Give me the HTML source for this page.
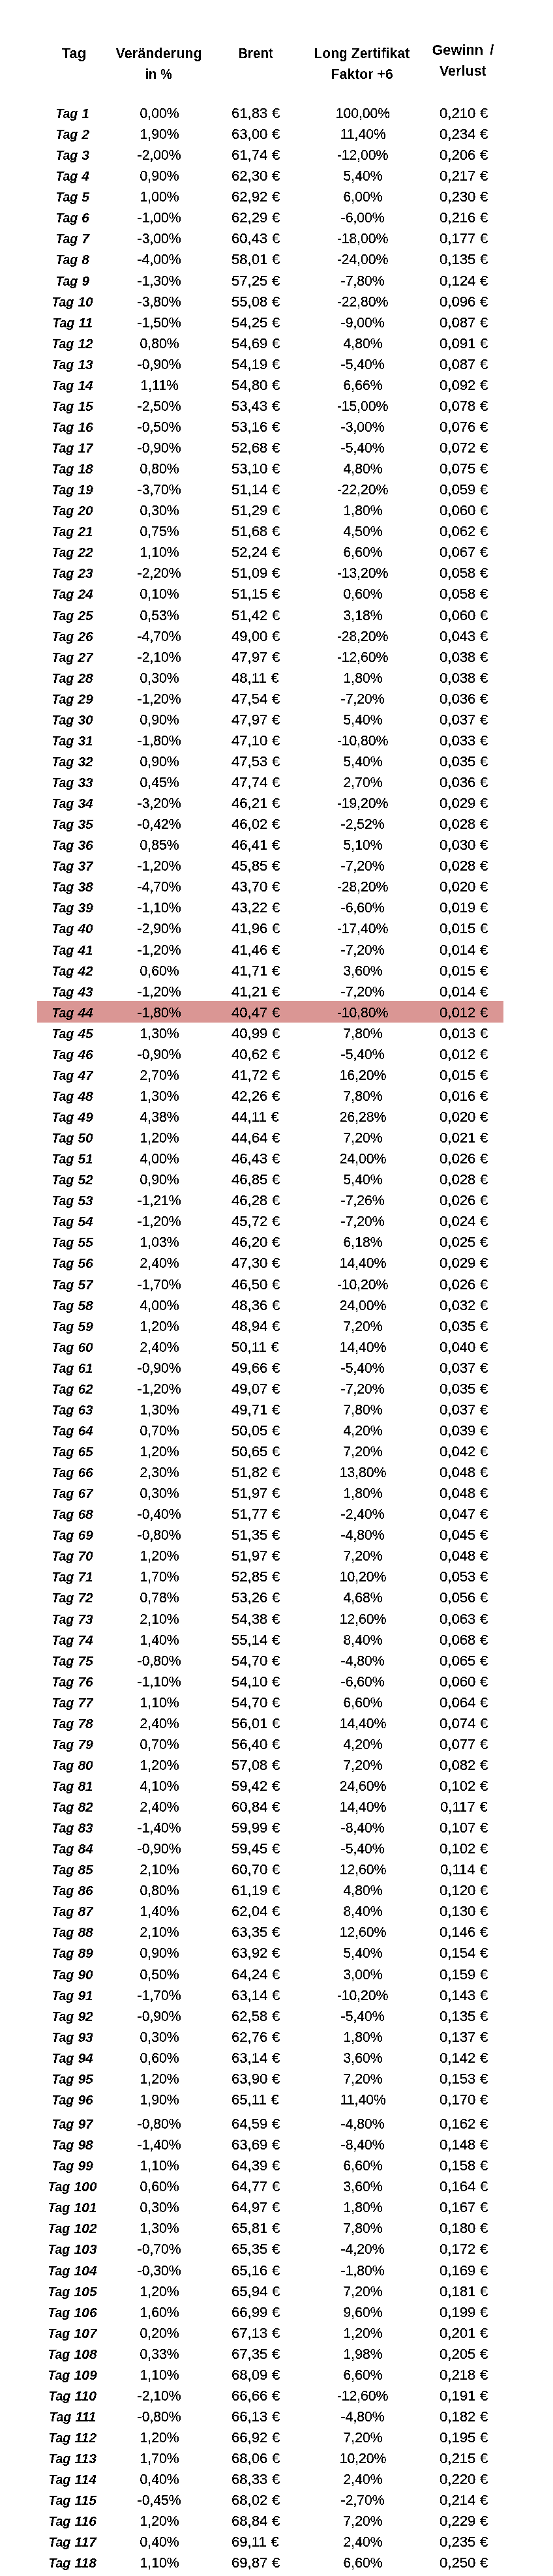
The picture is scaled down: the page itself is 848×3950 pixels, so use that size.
<!DOCTYPE html>
<html lang="de"><head><meta charset="utf-8"><title>Brent Long Zertifikat Faktor 6</title><style>
html,body{margin:0;padding:0;background:#fff;}
body{width:848px;height:3950px;position:relative;overflow:hidden;font-family:"Liberation Sans",Arial,sans-serif;color:#000;}
.c{position:absolute;width:180px;height:40px;line-height:40px;text-align:center;white-space:nowrap;}
.c span{display:inline-block;}
.t{font-size:21px;font-weight:bold;font-style:italic;}
.t .g{transform:scaleX(0.935);margin:0 -1.1px;}
.t .d{transform:scaleX(1.0);}
.n{font-size:21.5px;}
.n span{transform:scaleX(0.982);}
.n.e span{word-spacing:0.5px;transform:scaleX(1.03);}
.h{font-size:21.5px;font-weight:bold;}
.hl{position:absolute;background:#DA9694;}
.L{position:absolute;left:0;top:0;width:848px;height:3950px;}
#txr{filter:url(#binr);}
#txb{filter:url(#binb);}
</style></head><body>
<div class="hl" style="left:57px;top:1535px;width:715px;height:33px"></div>
<svg width="0" height="0" style="position:absolute"><filter id="binr" x="0" y="0" width="100%" height="100%"><feComponentTransfer><feFuncA type="discrete" tableValues="0 1 1"/></feComponentTransfer></filter><filter id="binb" x="0" y="0" width="100%" height="100%"><feComponentTransfer><feFuncA type="discrete" tableValues="0 1"/></feComponentTransfer></filter></svg>
<div class="L" id="txb">
<div class="c h" style="left:23.45px;top:61.75px"><span style="transform:scaleX(1.0294)">Tag</span></div>
<div class="c h" style="left:153.90px;top:61.75px"><span style="transform:scaleX(1.0062)">Veränderung</span></div>
<div class="c h" style="left:153.60px;top:93.85px"><span style="transform:scaleX(0.9369)">in %</span></div>
<div class="c h" style="left:302.05px;top:61.75px"><span style="transform:scaleX(0.9559)">Brent</span></div>
<div class="c h" style="left:465.15px;top:61.75px"><span style="transform:scaleX(0.9822)">Long Zertifikat</span></div>
<div class="c h" style="left:465.00px;top:93.85px"><span style="transform:scaleX(0.9894)">Faktor +6</span></div>
<div class="c h" style="left:620.10px;top:56.75px"><span style="transform:scaleX(1.0127);word-spacing:4px">Gewinn /</span></div>
<div class="c h" style="left:619.80px;top:88.75px"><span style="transform:scaleX(1.0028)">Verlust</span></div>
<div class="c t" style="left:21.00px;top:153.72px"><span class="g">Tag</span> <span class="d">1</span></div>
<div class="c t" style="left:21.00px;top:185.72px"><span class="g">Tag</span> <span class="d">2</span></div>
<div class="c t" style="left:21.00px;top:217.72px"><span class="g">Tag</span> <span class="d">3</span></div>
<div class="c t" style="left:21.00px;top:249.72px"><span class="g">Tag</span> <span class="d">4</span></div>
<div class="c t" style="left:21.00px;top:281.72px"><span class="g">Tag</span> <span class="d">5</span></div>
<div class="c t" style="left:21.00px;top:313.72px"><span class="g">Tag</span> <span class="d">6</span></div>
<div class="c t" style="left:21.00px;top:345.72px"><span class="g">Tag</span> <span class="d">7</span></div>
<div class="c t" style="left:21.00px;top:377.72px"><span class="g">Tag</span> <span class="d">8</span></div>
<div class="c t" style="left:21.00px;top:410.72px"><span class="g">Tag</span> <span class="d">9</span></div>
<div class="c t" style="left:21.00px;top:442.72px"><span class="g">Tag</span> <span class="d">10</span></div>
<div class="c t" style="left:21.00px;top:474.72px"><span class="g">Tag</span> <span class="d">11</span></div>
<div class="c t" style="left:21.00px;top:506.72px"><span class="g">Tag</span> <span class="d">12</span></div>
<div class="c t" style="left:21.00px;top:538.72px"><span class="g">Tag</span> <span class="d">13</span></div>
<div class="c t" style="left:21.00px;top:570.72px"><span class="g">Tag</span> <span class="d">14</span></div>
<div class="c t" style="left:21.00px;top:602.72px"><span class="g">Tag</span> <span class="d">15</span></div>
<div class="c t" style="left:21.00px;top:634.72px"><span class="g">Tag</span> <span class="d">16</span></div>
<div class="c t" style="left:21.00px;top:666.72px"><span class="g">Tag</span> <span class="d">17</span></div>
<div class="c t" style="left:21.00px;top:698.72px"><span class="g">Tag</span> <span class="d">18</span></div>
<div class="c t" style="left:21.00px;top:730.72px"><span class="g">Tag</span> <span class="d">19</span></div>
<div class="c t" style="left:21.00px;top:762.72px"><span class="g">Tag</span> <span class="d">20</span></div>
<div class="c t" style="left:21.00px;top:794.72px"><span class="g">Tag</span> <span class="d">21</span></div>
<div class="c t" style="left:21.00px;top:826.72px"><span class="g">Tag</span> <span class="d">22</span></div>
<div class="c t" style="left:21.00px;top:858.72px"><span class="g">Tag</span> <span class="d">23</span></div>
<div class="c t" style="left:21.00px;top:890.72px"><span class="g">Tag</span> <span class="d">24</span></div>
<div class="c t" style="left:21.00px;top:923.72px"><span class="g">Tag</span> <span class="d">25</span></div>
<div class="c t" style="left:21.00px;top:955.72px"><span class="g">Tag</span> <span class="d">26</span></div>
<div class="c t" style="left:21.00px;top:987.72px"><span class="g">Tag</span> <span class="d">27</span></div>
<div class="c t" style="left:21.00px;top:1019.72px"><span class="g">Tag</span> <span class="d">28</span></div>
<div class="c t" style="left:21.00px;top:1051.72px"><span class="g">Tag</span> <span class="d">29</span></div>
<div class="c t" style="left:21.00px;top:1083.72px"><span class="g">Tag</span> <span class="d">30</span></div>
<div class="c t" style="left:21.00px;top:1115.72px"><span class="g">Tag</span> <span class="d">31</span></div>
<div class="c t" style="left:21.00px;top:1147.72px"><span class="g">Tag</span> <span class="d">32</span></div>
<div class="c t" style="left:21.00px;top:1179.72px"><span class="g">Tag</span> <span class="d">33</span></div>
<div class="c t" style="left:21.00px;top:1211.72px"><span class="g">Tag</span> <span class="d">34</span></div>
<div class="c t" style="left:21.00px;top:1243.72px"><span class="g">Tag</span> <span class="d">35</span></div>
<div class="c t" style="left:21.00px;top:1275.72px"><span class="g">Tag</span> <span class="d">36</span></div>
<div class="c t" style="left:21.00px;top:1307.72px"><span class="g">Tag</span> <span class="d">37</span></div>
<div class="c t" style="left:21.00px;top:1339.72px"><span class="g">Tag</span> <span class="d">38</span></div>
<div class="c t" style="left:21.00px;top:1371.72px"><span class="g">Tag</span> <span class="d">39</span></div>
<div class="c t" style="left:21.00px;top:1403.72px"><span class="g">Tag</span> <span class="d">40</span></div>
<div class="c t" style="left:21.00px;top:1436.72px"><span class="g">Tag</span> <span class="d">41</span></div>
<div class="c t" style="left:21.00px;top:1468.72px"><span class="g">Tag</span> <span class="d">42</span></div>
<div class="c t" style="left:21.00px;top:1500.72px"><span class="g">Tag</span> <span class="d">43</span></div>
<div class="c t" style="left:21.00px;top:1532.72px"><span class="g">Tag</span> <span class="d">44</span></div>
<div class="c t" style="left:21.00px;top:1564.72px"><span class="g">Tag</span> <span class="d">45</span></div>
<div class="c t" style="left:21.00px;top:1596.72px"><span class="g">Tag</span> <span class="d">46</span></div>
<div class="c t" style="left:21.00px;top:1628.72px"><span class="g">Tag</span> <span class="d">47</span></div>
<div class="c t" style="left:21.00px;top:1660.72px"><span class="g">Tag</span> <span class="d">48</span></div>
<div class="c t" style="left:21.00px;top:1692.72px"><span class="g">Tag</span> <span class="d">49</span></div>
<div class="c t" style="left:21.00px;top:1724.72px"><span class="g">Tag</span> <span class="d">50</span></div>
<div class="c t" style="left:21.00px;top:1756.72px"><span class="g">Tag</span> <span class="d">51</span></div>
<div class="c t" style="left:21.00px;top:1788.72px"><span class="g">Tag</span> <span class="d">52</span></div>
<div class="c t" style="left:21.00px;top:1820.72px"><span class="g">Tag</span> <span class="d">53</span></div>
<div class="c t" style="left:21.00px;top:1852.72px"><span class="g">Tag</span> <span class="d">54</span></div>
<div class="c t" style="left:21.00px;top:1884.72px"><span class="g">Tag</span> <span class="d">55</span></div>
<div class="c t" style="left:21.00px;top:1916.72px"><span class="g">Tag</span> <span class="d">56</span></div>
<div class="c t" style="left:21.00px;top:1949.72px"><span class="g">Tag</span> <span class="d">57</span></div>
<div class="c t" style="left:21.00px;top:1981.72px"><span class="g">Tag</span> <span class="d">58</span></div>
<div class="c t" style="left:21.00px;top:2013.72px"><span class="g">Tag</span> <span class="d">59</span></div>
<div class="c t" style="left:21.00px;top:2045.72px"><span class="g">Tag</span> <span class="d">60</span></div>
<div class="c t" style="left:21.00px;top:2077.72px"><span class="g">Tag</span> <span class="d">61</span></div>
<div class="c t" style="left:21.00px;top:2109.72px"><span class="g">Tag</span> <span class="d">62</span></div>
<div class="c t" style="left:21.00px;top:2141.72px"><span class="g">Tag</span> <span class="d">63</span></div>
<div class="c t" style="left:21.00px;top:2173.72px"><span class="g">Tag</span> <span class="d">64</span></div>
<div class="c t" style="left:21.00px;top:2205.72px"><span class="g">Tag</span> <span class="d">65</span></div>
<div class="c t" style="left:21.00px;top:2237.72px"><span class="g">Tag</span> <span class="d">66</span></div>
<div class="c t" style="left:21.00px;top:2269.72px"><span class="g">Tag</span> <span class="d">67</span></div>
<div class="c t" style="left:21.00px;top:2301.72px"><span class="g">Tag</span> <span class="d">68</span></div>
<div class="c t" style="left:21.00px;top:2333.72px"><span class="g">Tag</span> <span class="d">69</span></div>
<div class="c t" style="left:21.00px;top:2365.72px"><span class="g">Tag</span> <span class="d">70</span></div>
<div class="c t" style="left:21.00px;top:2397.72px"><span class="g">Tag</span> <span class="d">71</span></div>
<div class="c t" style="left:21.00px;top:2429.72px"><span class="g">Tag</span> <span class="d">72</span></div>
<div class="c t" style="left:21.00px;top:2462.72px"><span class="g">Tag</span> <span class="d">73</span></div>
<div class="c t" style="left:21.00px;top:2494.72px"><span class="g">Tag</span> <span class="d">74</span></div>
<div class="c t" style="left:21.00px;top:2526.72px"><span class="g">Tag</span> <span class="d">75</span></div>
<div class="c t" style="left:21.00px;top:2558.72px"><span class="g">Tag</span> <span class="d">76</span></div>
<div class="c t" style="left:21.00px;top:2590.72px"><span class="g">Tag</span> <span class="d">77</span></div>
<div class="c t" style="left:21.00px;top:2622.72px"><span class="g">Tag</span> <span class="d">78</span></div>
<div class="c t" style="left:21.00px;top:2654.72px"><span class="g">Tag</span> <span class="d">79</span></div>
<div class="c t" style="left:21.00px;top:2686.72px"><span class="g">Tag</span> <span class="d">80</span></div>
<div class="c t" style="left:21.00px;top:2718.72px"><span class="g">Tag</span> <span class="d">81</span></div>
<div class="c t" style="left:21.00px;top:2750.72px"><span class="g">Tag</span> <span class="d">82</span></div>
<div class="c t" style="left:21.00px;top:2782.72px"><span class="g">Tag</span> <span class="d">83</span></div>
<div class="c t" style="left:21.00px;top:2814.72px"><span class="g">Tag</span> <span class="d">84</span></div>
<div class="c t" style="left:21.00px;top:2846.72px"><span class="g">Tag</span> <span class="d">85</span></div>
<div class="c t" style="left:21.00px;top:2878.72px"><span class="g">Tag</span> <span class="d">86</span></div>
<div class="c t" style="left:21.00px;top:2910.72px"><span class="g">Tag</span> <span class="d">87</span></div>
<div class="c t" style="left:21.00px;top:2942.72px"><span class="g">Tag</span> <span class="d">88</span></div>
<div class="c t" style="left:21.00px;top:2974.72px"><span class="g">Tag</span> <span class="d">89</span></div>
<div class="c t" style="left:21.00px;top:3007.72px"><span class="g">Tag</span> <span class="d">90</span></div>
<div class="c t" style="left:21.00px;top:3039.72px"><span class="g">Tag</span> <span class="d">91</span></div>
<div class="c t" style="left:21.00px;top:3071.72px"><span class="g">Tag</span> <span class="d">92</span></div>
<div class="c t" style="left:21.00px;top:3103.72px"><span class="g">Tag</span> <span class="d">93</span></div>
<div class="c t" style="left:21.00px;top:3135.72px"><span class="g">Tag</span> <span class="d">94</span></div>
<div class="c t" style="left:21.00px;top:3167.72px"><span class="g">Tag</span> <span class="d">95</span></div>
<div class="c t" style="left:21.00px;top:3199.72px"><span class="g">Tag</span> <span class="d">96</span></div>
<div class="c t" style="left:21.00px;top:3236.72px"><span class="g">Tag</span> <span class="d">97</span></div>
<div class="c t" style="left:21.00px;top:3268.72px"><span class="g">Tag</span> <span class="d">98</span></div>
<div class="c t" style="left:21.00px;top:3300.72px"><span class="g">Tag</span> <span class="d">99</span></div>
<div class="c t" style="left:21.00px;top:3332.72px"><span class="g">Tag</span> <span class="d">100</span></div>
<div class="c t" style="left:21.00px;top:3364.72px"><span class="g">Tag</span> <span class="d">101</span></div>
<div class="c t" style="left:21.00px;top:3396.72px"><span class="g">Tag</span> <span class="d">102</span></div>
<div class="c t" style="left:21.00px;top:3428.72px"><span class="g">Tag</span> <span class="d">103</span></div>
<div class="c t" style="left:21.00px;top:3461.72px"><span class="g">Tag</span> <span class="d">104</span></div>
<div class="c t" style="left:21.00px;top:3493.72px"><span class="g">Tag</span> <span class="d">105</span></div>
<div class="c t" style="left:21.00px;top:3525.72px"><span class="g">Tag</span> <span class="d">106</span></div>
<div class="c t" style="left:21.00px;top:3557.72px"><span class="g">Tag</span> <span class="d">107</span></div>
<div class="c t" style="left:21.00px;top:3589.72px"><span class="g">Tag</span> <span class="d">108</span></div>
<div class="c t" style="left:21.00px;top:3621.72px"><span class="g">Tag</span> <span class="d">109</span></div>
<div class="c t" style="left:21.00px;top:3653.72px"><span class="g">Tag</span> <span class="d">110</span></div>
<div class="c t" style="left:21.00px;top:3685.72px"><span class="g">Tag</span> <span class="d">111</span></div>
<div class="c t" style="left:21.00px;top:3717.72px"><span class="g">Tag</span> <span class="d">112</span></div>
<div class="c t" style="left:21.00px;top:3749.72px"><span class="g">Tag</span> <span class="d">113</span></div>
<div class="c t" style="left:21.00px;top:3781.72px"><span class="g">Tag</span> <span class="d">114</span></div>
<div class="c t" style="left:21.00px;top:3813.72px"><span class="g">Tag</span> <span class="d">115</span></div>
<div class="c t" style="left:21.00px;top:3845.72px"><span class="g">Tag</span> <span class="d">116</span></div>
<div class="c t" style="left:21.00px;top:3877.72px"><span class="g">Tag</span> <span class="d">117</span></div>
<div class="c t" style="left:21.00px;top:3909.72px"><span class="g">Tag</span> <span class="d">118</span></div>
</div>
<div class="L" id="txr">
<div class="c n" style="left:154.40px;top:153.55px"><span>0,00%</span></div>
<div class="c n e" style="left:301.80px;top:153.55px"><span>61,83 €</span></div>
<div class="c n" style="left:466.50px;top:153.55px"><span>100,00%</span></div>
<div class="c n e" style="left:621.00px;top:153.55px"><span>0,210 €</span></div>
<div class="c n" style="left:154.40px;top:185.55px"><span>1,90%</span></div>
<div class="c n e" style="left:301.80px;top:185.55px"><span>63,00 €</span></div>
<div class="c n" style="left:466.50px;top:185.55px"><span>11,40%</span></div>
<div class="c n e" style="left:621.00px;top:185.55px"><span>0,234 €</span></div>
<div class="c n" style="left:154.40px;top:217.55px"><span>-2,00%</span></div>
<div class="c n e" style="left:301.80px;top:217.55px"><span>61,74 €</span></div>
<div class="c n" style="left:466.50px;top:217.55px"><span>-12,00%</span></div>
<div class="c n e" style="left:621.00px;top:217.55px"><span>0,206 €</span></div>
<div class="c n" style="left:154.40px;top:249.55px"><span>0,90%</span></div>
<div class="c n e" style="left:301.80px;top:249.55px"><span>62,30 €</span></div>
<div class="c n" style="left:466.50px;top:249.55px"><span>5,40%</span></div>
<div class="c n e" style="left:621.00px;top:249.55px"><span>0,217 €</span></div>
<div class="c n" style="left:154.40px;top:281.55px"><span>1,00%</span></div>
<div class="c n e" style="left:301.80px;top:281.55px"><span>62,92 €</span></div>
<div class="c n" style="left:466.50px;top:281.55px"><span>6,00%</span></div>
<div class="c n e" style="left:621.00px;top:281.55px"><span>0,230 €</span></div>
<div class="c n" style="left:154.40px;top:313.55px"><span>-1,00%</span></div>
<div class="c n e" style="left:301.80px;top:313.55px"><span>62,29 €</span></div>
<div class="c n" style="left:466.50px;top:313.55px"><span>-6,00%</span></div>
<div class="c n e" style="left:621.00px;top:313.55px"><span>0,216 €</span></div>
<div class="c n" style="left:154.40px;top:345.55px"><span>-3,00%</span></div>
<div class="c n e" style="left:301.80px;top:345.55px"><span>60,43 €</span></div>
<div class="c n" style="left:466.50px;top:345.55px"><span>-18,00%</span></div>
<div class="c n e" style="left:621.00px;top:345.55px"><span>0,177 €</span></div>
<div class="c n" style="left:154.40px;top:377.55px"><span>-4,00%</span></div>
<div class="c n e" style="left:301.80px;top:377.55px"><span>58,01 €</span></div>
<div class="c n" style="left:466.50px;top:377.55px"><span>-24,00%</span></div>
<div class="c n e" style="left:621.00px;top:377.55px"><span>0,135 €</span></div>
<div class="c n" style="left:154.40px;top:410.55px"><span>-1,30%</span></div>
<div class="c n e" style="left:301.80px;top:410.55px"><span>57,25 €</span></div>
<div class="c n" style="left:466.50px;top:410.55px"><span>-7,80%</span></div>
<div class="c n e" style="left:621.00px;top:410.55px"><span>0,124 €</span></div>
<div class="c n" style="left:154.40px;top:442.55px"><span>-3,80%</span></div>
<div class="c n e" style="left:301.80px;top:442.55px"><span>55,08 €</span></div>
<div class="c n" style="left:466.50px;top:442.55px"><span>-22,80%</span></div>
<div class="c n e" style="left:621.00px;top:442.55px"><span>0,096 €</span></div>
<div class="c n" style="left:154.40px;top:474.55px"><span>-1,50%</span></div>
<div class="c n e" style="left:301.80px;top:474.55px"><span>54,25 €</span></div>
<div class="c n" style="left:466.50px;top:474.55px"><span>-9,00%</span></div>
<div class="c n e" style="left:621.00px;top:474.55px"><span>0,087 €</span></div>
<div class="c n" style="left:154.40px;top:506.55px"><span>0,80%</span></div>
<div class="c n e" style="left:301.80px;top:506.55px"><span>54,69 €</span></div>
<div class="c n" style="left:466.50px;top:506.55px"><span>4,80%</span></div>
<div class="c n e" style="left:621.00px;top:506.55px"><span>0,091 €</span></div>
<div class="c n" style="left:154.40px;top:538.55px"><span>-0,90%</span></div>
<div class="c n e" style="left:301.80px;top:538.55px"><span>54,19 €</span></div>
<div class="c n" style="left:466.50px;top:538.55px"><span>-5,40%</span></div>
<div class="c n e" style="left:621.00px;top:538.55px"><span>0,087 €</span></div>
<div class="c n" style="left:154.40px;top:570.55px"><span>1,11%</span></div>
<div class="c n e" style="left:301.80px;top:570.55px"><span>54,80 €</span></div>
<div class="c n" style="left:466.50px;top:570.55px"><span>6,66%</span></div>
<div class="c n e" style="left:621.00px;top:570.55px"><span>0,092 €</span></div>
<div class="c n" style="left:154.40px;top:602.55px"><span>-2,50%</span></div>
<div class="c n e" style="left:301.80px;top:602.55px"><span>53,43 €</span></div>
<div class="c n" style="left:466.50px;top:602.55px"><span>-15,00%</span></div>
<div class="c n e" style="left:621.00px;top:602.55px"><span>0,078 €</span></div>
<div class="c n" style="left:154.40px;top:634.55px"><span>-0,50%</span></div>
<div class="c n e" style="left:301.80px;top:634.55px"><span>53,16 €</span></div>
<div class="c n" style="left:466.50px;top:634.55px"><span>-3,00%</span></div>
<div class="c n e" style="left:621.00px;top:634.55px"><span>0,076 €</span></div>
<div class="c n" style="left:154.40px;top:666.55px"><span>-0,90%</span></div>
<div class="c n e" style="left:301.80px;top:666.55px"><span>52,68 €</span></div>
<div class="c n" style="left:466.50px;top:666.55px"><span>-5,40%</span></div>
<div class="c n e" style="left:621.00px;top:666.55px"><span>0,072 €</span></div>
<div class="c n" style="left:154.40px;top:698.55px"><span>0,80%</span></div>
<div class="c n e" style="left:301.80px;top:698.55px"><span>53,10 €</span></div>
<div class="c n" style="left:466.50px;top:698.55px"><span>4,80%</span></div>
<div class="c n e" style="left:621.00px;top:698.55px"><span>0,075 €</span></div>
<div class="c n" style="left:154.40px;top:730.55px"><span>-3,70%</span></div>
<div class="c n e" style="left:301.80px;top:730.55px"><span>51,14 €</span></div>
<div class="c n" style="left:466.50px;top:730.55px"><span>-22,20%</span></div>
<div class="c n e" style="left:621.00px;top:730.55px"><span>0,059 €</span></div>
<div class="c n" style="left:154.40px;top:762.55px"><span>0,30%</span></div>
<div class="c n e" style="left:301.80px;top:762.55px"><span>51,29 €</span></div>
<div class="c n" style="left:466.50px;top:762.55px"><span>1,80%</span></div>
<div class="c n e" style="left:621.00px;top:762.55px"><span>0,060 €</span></div>
<div class="c n" style="left:154.40px;top:794.55px"><span>0,75%</span></div>
<div class="c n e" style="left:301.80px;top:794.55px"><span>51,68 €</span></div>
<div class="c n" style="left:466.50px;top:794.55px"><span>4,50%</span></div>
<div class="c n e" style="left:621.00px;top:794.55px"><span>0,062 €</span></div>
<div class="c n" style="left:154.40px;top:826.55px"><span>1,10%</span></div>
<div class="c n e" style="left:301.80px;top:826.55px"><span>52,24 €</span></div>
<div class="c n" style="left:466.50px;top:826.55px"><span>6,60%</span></div>
<div class="c n e" style="left:621.00px;top:826.55px"><span>0,067 €</span></div>
<div class="c n" style="left:154.40px;top:858.55px"><span>-2,20%</span></div>
<div class="c n e" style="left:301.80px;top:858.55px"><span>51,09 €</span></div>
<div class="c n" style="left:466.50px;top:858.55px"><span>-13,20%</span></div>
<div class="c n e" style="left:621.00px;top:858.55px"><span>0,058 €</span></div>
<div class="c n" style="left:154.40px;top:890.55px"><span>0,10%</span></div>
<div class="c n e" style="left:301.80px;top:890.55px"><span>51,15 €</span></div>
<div class="c n" style="left:466.50px;top:890.55px"><span>0,60%</span></div>
<div class="c n e" style="left:621.00px;top:890.55px"><span>0,058 €</span></div>
<div class="c n" style="left:154.40px;top:923.55px"><span>0,53%</span></div>
<div class="c n e" style="left:301.80px;top:923.55px"><span>51,42 €</span></div>
<div class="c n" style="left:466.50px;top:923.55px"><span>3,18%</span></div>
<div class="c n e" style="left:621.00px;top:923.55px"><span>0,060 €</span></div>
<div class="c n" style="left:154.40px;top:955.55px"><span>-4,70%</span></div>
<div class="c n e" style="left:301.80px;top:955.55px"><span>49,00 €</span></div>
<div class="c n" style="left:466.50px;top:955.55px"><span>-28,20%</span></div>
<div class="c n e" style="left:621.00px;top:955.55px"><span>0,043 €</span></div>
<div class="c n" style="left:154.40px;top:987.55px"><span>-2,10%</span></div>
<div class="c n e" style="left:301.80px;top:987.55px"><span>47,97 €</span></div>
<div class="c n" style="left:466.50px;top:987.55px"><span>-12,60%</span></div>
<div class="c n e" style="left:621.00px;top:987.55px"><span>0,038 €</span></div>
<div class="c n" style="left:154.40px;top:1019.55px"><span>0,30%</span></div>
<div class="c n e" style="left:301.80px;top:1019.55px"><span>48,11 €</span></div>
<div class="c n" style="left:466.50px;top:1019.55px"><span>1,80%</span></div>
<div class="c n e" style="left:621.00px;top:1019.55px"><span>0,038 €</span></div>
<div class="c n" style="left:154.40px;top:1051.55px"><span>-1,20%</span></div>
<div class="c n e" style="left:301.80px;top:1051.55px"><span>47,54 €</span></div>
<div class="c n" style="left:466.50px;top:1051.55px"><span>-7,20%</span></div>
<div class="c n e" style="left:621.00px;top:1051.55px"><span>0,036 €</span></div>
<div class="c n" style="left:154.40px;top:1083.55px"><span>0,90%</span></div>
<div class="c n e" style="left:301.80px;top:1083.55px"><span>47,97 €</span></div>
<div class="c n" style="left:466.50px;top:1083.55px"><span>5,40%</span></div>
<div class="c n e" style="left:621.00px;top:1083.55px"><span>0,037 €</span></div>
<div class="c n" style="left:154.40px;top:1115.55px"><span>-1,80%</span></div>
<div class="c n e" style="left:301.80px;top:1115.55px"><span>47,10 €</span></div>
<div class="c n" style="left:466.50px;top:1115.55px"><span>-10,80%</span></div>
<div class="c n e" style="left:621.00px;top:1115.55px"><span>0,033 €</span></div>
<div class="c n" style="left:154.40px;top:1147.55px"><span>0,90%</span></div>
<div class="c n e" style="left:301.80px;top:1147.55px"><span>47,53 €</span></div>
<div class="c n" style="left:466.50px;top:1147.55px"><span>5,40%</span></div>
<div class="c n e" style="left:621.00px;top:1147.55px"><span>0,035 €</span></div>
<div class="c n" style="left:154.40px;top:1179.55px"><span>0,45%</span></div>
<div class="c n e" style="left:301.80px;top:1179.55px"><span>47,74 €</span></div>
<div class="c n" style="left:466.50px;top:1179.55px"><span>2,70%</span></div>
<div class="c n e" style="left:621.00px;top:1179.55px"><span>0,036 €</span></div>
<div class="c n" style="left:154.40px;top:1211.55px"><span>-3,20%</span></div>
<div class="c n e" style="left:301.80px;top:1211.55px"><span>46,21 €</span></div>
<div class="c n" style="left:466.50px;top:1211.55px"><span>-19,20%</span></div>
<div class="c n e" style="left:621.00px;top:1211.55px"><span>0,029 €</span></div>
<div class="c n" style="left:154.40px;top:1243.55px"><span>-0,42%</span></div>
<div class="c n e" style="left:301.80px;top:1243.55px"><span>46,02 €</span></div>
<div class="c n" style="left:466.50px;top:1243.55px"><span>-2,52%</span></div>
<div class="c n e" style="left:621.00px;top:1243.55px"><span>0,028 €</span></div>
<div class="c n" style="left:154.40px;top:1275.55px"><span>0,85%</span></div>
<div class="c n e" style="left:301.80px;top:1275.55px"><span>46,41 €</span></div>
<div class="c n" style="left:466.50px;top:1275.55px"><span>5,10%</span></div>
<div class="c n e" style="left:621.00px;top:1275.55px"><span>0,030 €</span></div>
<div class="c n" style="left:154.40px;top:1307.55px"><span>-1,20%</span></div>
<div class="c n e" style="left:301.80px;top:1307.55px"><span>45,85 €</span></div>
<div class="c n" style="left:466.50px;top:1307.55px"><span>-7,20%</span></div>
<div class="c n e" style="left:621.00px;top:1307.55px"><span>0,028 €</span></div>
<div class="c n" style="left:154.40px;top:1339.55px"><span>-4,70%</span></div>
<div class="c n e" style="left:301.80px;top:1339.55px"><span>43,70 €</span></div>
<div class="c n" style="left:466.50px;top:1339.55px"><span>-28,20%</span></div>
<div class="c n e" style="left:621.00px;top:1339.55px"><span>0,020 €</span></div>
<div class="c n" style="left:154.40px;top:1371.55px"><span>-1,10%</span></div>
<div class="c n e" style="left:301.80px;top:1371.55px"><span>43,22 €</span></div>
<div class="c n" style="left:466.50px;top:1371.55px"><span>-6,60%</span></div>
<div class="c n e" style="left:621.00px;top:1371.55px"><span>0,019 €</span></div>
<div class="c n" style="left:154.40px;top:1403.55px"><span>-2,90%</span></div>
<div class="c n e" style="left:301.80px;top:1403.55px"><span>41,96 €</span></div>
<div class="c n" style="left:466.50px;top:1403.55px"><span>-17,40%</span></div>
<div class="c n e" style="left:621.00px;top:1403.55px"><span>0,015 €</span></div>
<div class="c n" style="left:154.40px;top:1436.55px"><span>-1,20%</span></div>
<div class="c n e" style="left:301.80px;top:1436.55px"><span>41,46 €</span></div>
<div class="c n" style="left:466.50px;top:1436.55px"><span>-7,20%</span></div>
<div class="c n e" style="left:621.00px;top:1436.55px"><span>0,014 €</span></div>
<div class="c n" style="left:154.40px;top:1468.55px"><span>0,60%</span></div>
<div class="c n e" style="left:301.80px;top:1468.55px"><span>41,71 €</span></div>
<div class="c n" style="left:466.50px;top:1468.55px"><span>3,60%</span></div>
<div class="c n e" style="left:621.00px;top:1468.55px"><span>0,015 €</span></div>
<div class="c n" style="left:154.40px;top:1500.55px"><span>-1,20%</span></div>
<div class="c n e" style="left:301.80px;top:1500.55px"><span>41,21 €</span></div>
<div class="c n" style="left:466.50px;top:1500.55px"><span>-7,20%</span></div>
<div class="c n e" style="left:621.00px;top:1500.55px"><span>0,014 €</span></div>
<div class="c n" style="left:154.40px;top:1532.55px"><span>-1,80%</span></div>
<div class="c n e" style="left:301.80px;top:1532.55px"><span>40,47 €</span></div>
<div class="c n" style="left:466.50px;top:1532.55px"><span>-10,80%</span></div>
<div class="c n e" style="left:621.00px;top:1532.55px"><span>0,012 €</span></div>
<div class="c n" style="left:154.40px;top:1564.55px"><span>1,30%</span></div>
<div class="c n e" style="left:301.80px;top:1564.55px"><span>40,99 €</span></div>
<div class="c n" style="left:466.50px;top:1564.55px"><span>7,80%</span></div>
<div class="c n e" style="left:621.00px;top:1564.55px"><span>0,013 €</span></div>
<div class="c n" style="left:154.40px;top:1596.55px"><span>-0,90%</span></div>
<div class="c n e" style="left:301.80px;top:1596.55px"><span>40,62 €</span></div>
<div class="c n" style="left:466.50px;top:1596.55px"><span>-5,40%</span></div>
<div class="c n e" style="left:621.00px;top:1596.55px"><span>0,012 €</span></div>
<div class="c n" style="left:154.40px;top:1628.55px"><span>2,70%</span></div>
<div class="c n e" style="left:301.80px;top:1628.55px"><span>41,72 €</span></div>
<div class="c n" style="left:466.50px;top:1628.55px"><span>16,20%</span></div>
<div class="c n e" style="left:621.00px;top:1628.55px"><span>0,015 €</span></div>
<div class="c n" style="left:154.40px;top:1660.55px"><span>1,30%</span></div>
<div class="c n e" style="left:301.80px;top:1660.55px"><span>42,26 €</span></div>
<div class="c n" style="left:466.50px;top:1660.55px"><span>7,80%</span></div>
<div class="c n e" style="left:621.00px;top:1660.55px"><span>0,016 €</span></div>
<div class="c n" style="left:154.40px;top:1692.55px"><span>4,38%</span></div>
<div class="c n e" style="left:301.80px;top:1692.55px"><span>44,11 €</span></div>
<div class="c n" style="left:466.50px;top:1692.55px"><span>26,28%</span></div>
<div class="c n e" style="left:621.00px;top:1692.55px"><span>0,020 €</span></div>
<div class="c n" style="left:154.40px;top:1724.55px"><span>1,20%</span></div>
<div class="c n e" style="left:301.80px;top:1724.55px"><span>44,64 €</span></div>
<div class="c n" style="left:466.50px;top:1724.55px"><span>7,20%</span></div>
<div class="c n e" style="left:621.00px;top:1724.55px"><span>0,021 €</span></div>
<div class="c n" style="left:154.40px;top:1756.55px"><span>4,00%</span></div>
<div class="c n e" style="left:301.80px;top:1756.55px"><span>46,43 €</span></div>
<div class="c n" style="left:466.50px;top:1756.55px"><span>24,00%</span></div>
<div class="c n e" style="left:621.00px;top:1756.55px"><span>0,026 €</span></div>
<div class="c n" style="left:154.40px;top:1788.55px"><span>0,90%</span></div>
<div class="c n e" style="left:301.80px;top:1788.55px"><span>46,85 €</span></div>
<div class="c n" style="left:466.50px;top:1788.55px"><span>5,40%</span></div>
<div class="c n e" style="left:621.00px;top:1788.55px"><span>0,028 €</span></div>
<div class="c n" style="left:154.40px;top:1820.55px"><span>-1,21%</span></div>
<div class="c n e" style="left:301.80px;top:1820.55px"><span>46,28 €</span></div>
<div class="c n" style="left:466.50px;top:1820.55px"><span>-7,26%</span></div>
<div class="c n e" style="left:621.00px;top:1820.55px"><span>0,026 €</span></div>
<div class="c n" style="left:154.40px;top:1852.55px"><span>-1,20%</span></div>
<div class="c n e" style="left:301.80px;top:1852.55px"><span>45,72 €</span></div>
<div class="c n" style="left:466.50px;top:1852.55px"><span>-7,20%</span></div>
<div class="c n e" style="left:621.00px;top:1852.55px"><span>0,024 €</span></div>
<div class="c n" style="left:154.40px;top:1884.55px"><span>1,03%</span></div>
<div class="c n e" style="left:301.80px;top:1884.55px"><span>46,20 €</span></div>
<div class="c n" style="left:466.50px;top:1884.55px"><span>6,18%</span></div>
<div class="c n e" style="left:621.00px;top:1884.55px"><span>0,025 €</span></div>
<div class="c n" style="left:154.40px;top:1916.55px"><span>2,40%</span></div>
<div class="c n e" style="left:301.80px;top:1916.55px"><span>47,30 €</span></div>
<div class="c n" style="left:466.50px;top:1916.55px"><span>14,40%</span></div>
<div class="c n e" style="left:621.00px;top:1916.55px"><span>0,029 €</span></div>
<div class="c n" style="left:154.40px;top:1949.55px"><span>-1,70%</span></div>
<div class="c n e" style="left:301.80px;top:1949.55px"><span>46,50 €</span></div>
<div class="c n" style="left:466.50px;top:1949.55px"><span>-10,20%</span></div>
<div class="c n e" style="left:621.00px;top:1949.55px"><span>0,026 €</span></div>
<div class="c n" style="left:154.40px;top:1981.55px"><span>4,00%</span></div>
<div class="c n e" style="left:301.80px;top:1981.55px"><span>48,36 €</span></div>
<div class="c n" style="left:466.50px;top:1981.55px"><span>24,00%</span></div>
<div class="c n e" style="left:621.00px;top:1981.55px"><span>0,032 €</span></div>
<div class="c n" style="left:154.40px;top:2013.55px"><span>1,20%</span></div>
<div class="c n e" style="left:301.80px;top:2013.55px"><span>48,94 €</span></div>
<div class="c n" style="left:466.50px;top:2013.55px"><span>7,20%</span></div>
<div class="c n e" style="left:621.00px;top:2013.55px"><span>0,035 €</span></div>
<div class="c n" style="left:154.40px;top:2045.55px"><span>2,40%</span></div>
<div class="c n e" style="left:301.80px;top:2045.55px"><span>50,11 €</span></div>
<div class="c n" style="left:466.50px;top:2045.55px"><span>14,40%</span></div>
<div class="c n e" style="left:621.00px;top:2045.55px"><span>0,040 €</span></div>
<div class="c n" style="left:154.40px;top:2077.55px"><span>-0,90%</span></div>
<div class="c n e" style="left:301.80px;top:2077.55px"><span>49,66 €</span></div>
<div class="c n" style="left:466.50px;top:2077.55px"><span>-5,40%</span></div>
<div class="c n e" style="left:621.00px;top:2077.55px"><span>0,037 €</span></div>
<div class="c n" style="left:154.40px;top:2109.55px"><span>-1,20%</span></div>
<div class="c n e" style="left:301.80px;top:2109.55px"><span>49,07 €</span></div>
<div class="c n" style="left:466.50px;top:2109.55px"><span>-7,20%</span></div>
<div class="c n e" style="left:621.00px;top:2109.55px"><span>0,035 €</span></div>
<div class="c n" style="left:154.40px;top:2141.55px"><span>1,30%</span></div>
<div class="c n e" style="left:301.80px;top:2141.55px"><span>49,71 €</span></div>
<div class="c n" style="left:466.50px;top:2141.55px"><span>7,80%</span></div>
<div class="c n e" style="left:621.00px;top:2141.55px"><span>0,037 €</span></div>
<div class="c n" style="left:154.40px;top:2173.55px"><span>0,70%</span></div>
<div class="c n e" style="left:301.80px;top:2173.55px"><span>50,05 €</span></div>
<div class="c n" style="left:466.50px;top:2173.55px"><span>4,20%</span></div>
<div class="c n e" style="left:621.00px;top:2173.55px"><span>0,039 €</span></div>
<div class="c n" style="left:154.40px;top:2205.55px"><span>1,20%</span></div>
<div class="c n e" style="left:301.80px;top:2205.55px"><span>50,65 €</span></div>
<div class="c n" style="left:466.50px;top:2205.55px"><span>7,20%</span></div>
<div class="c n e" style="left:621.00px;top:2205.55px"><span>0,042 €</span></div>
<div class="c n" style="left:154.40px;top:2237.55px"><span>2,30%</span></div>
<div class="c n e" style="left:301.80px;top:2237.55px"><span>51,82 €</span></div>
<div class="c n" style="left:466.50px;top:2237.55px"><span>13,80%</span></div>
<div class="c n e" style="left:621.00px;top:2237.55px"><span>0,048 €</span></div>
<div class="c n" style="left:154.40px;top:2269.55px"><span>0,30%</span></div>
<div class="c n e" style="left:301.80px;top:2269.55px"><span>51,97 €</span></div>
<div class="c n" style="left:466.50px;top:2269.55px"><span>1,80%</span></div>
<div class="c n e" style="left:621.00px;top:2269.55px"><span>0,048 €</span></div>
<div class="c n" style="left:154.40px;top:2301.55px"><span>-0,40%</span></div>
<div class="c n e" style="left:301.80px;top:2301.55px"><span>51,77 €</span></div>
<div class="c n" style="left:466.50px;top:2301.55px"><span>-2,40%</span></div>
<div class="c n e" style="left:621.00px;top:2301.55px"><span>0,047 €</span></div>
<div class="c n" style="left:154.40px;top:2333.55px"><span>-0,80%</span></div>
<div class="c n e" style="left:301.80px;top:2333.55px"><span>51,35 €</span></div>
<div class="c n" style="left:466.50px;top:2333.55px"><span>-4,80%</span></div>
<div class="c n e" style="left:621.00px;top:2333.55px"><span>0,045 €</span></div>
<div class="c n" style="left:154.40px;top:2365.55px"><span>1,20%</span></div>
<div class="c n e" style="left:301.80px;top:2365.55px"><span>51,97 €</span></div>
<div class="c n" style="left:466.50px;top:2365.55px"><span>7,20%</span></div>
<div class="c n e" style="left:621.00px;top:2365.55px"><span>0,048 €</span></div>
<div class="c n" style="left:154.40px;top:2397.55px"><span>1,70%</span></div>
<div class="c n e" style="left:301.80px;top:2397.55px"><span>52,85 €</span></div>
<div class="c n" style="left:466.50px;top:2397.55px"><span>10,20%</span></div>
<div class="c n e" style="left:621.00px;top:2397.55px"><span>0,053 €</span></div>
<div class="c n" style="left:154.40px;top:2429.55px"><span>0,78%</span></div>
<div class="c n e" style="left:301.80px;top:2429.55px"><span>53,26 €</span></div>
<div class="c n" style="left:466.50px;top:2429.55px"><span>4,68%</span></div>
<div class="c n e" style="left:621.00px;top:2429.55px"><span>0,056 €</span></div>
<div class="c n" style="left:154.40px;top:2462.55px"><span>2,10%</span></div>
<div class="c n e" style="left:301.80px;top:2462.55px"><span>54,38 €</span></div>
<div class="c n" style="left:466.50px;top:2462.55px"><span>12,60%</span></div>
<div class="c n e" style="left:621.00px;top:2462.55px"><span>0,063 €</span></div>
<div class="c n" style="left:154.40px;top:2494.55px"><span>1,40%</span></div>
<div class="c n e" style="left:301.80px;top:2494.55px"><span>55,14 €</span></div>
<div class="c n" style="left:466.50px;top:2494.55px"><span>8,40%</span></div>
<div class="c n e" style="left:621.00px;top:2494.55px"><span>0,068 €</span></div>
<div class="c n" style="left:154.40px;top:2526.55px"><span>-0,80%</span></div>
<div class="c n e" style="left:301.80px;top:2526.55px"><span>54,70 €</span></div>
<div class="c n" style="left:466.50px;top:2526.55px"><span>-4,80%</span></div>
<div class="c n e" style="left:621.00px;top:2526.55px"><span>0,065 €</span></div>
<div class="c n" style="left:154.40px;top:2558.55px"><span>-1,10%</span></div>
<div class="c n e" style="left:301.80px;top:2558.55px"><span>54,10 €</span></div>
<div class="c n" style="left:466.50px;top:2558.55px"><span>-6,60%</span></div>
<div class="c n e" style="left:621.00px;top:2558.55px"><span>0,060 €</span></div>
<div class="c n" style="left:154.40px;top:2590.55px"><span>1,10%</span></div>
<div class="c n e" style="left:301.80px;top:2590.55px"><span>54,70 €</span></div>
<div class="c n" style="left:466.50px;top:2590.55px"><span>6,60%</span></div>
<div class="c n e" style="left:621.00px;top:2590.55px"><span>0,064 €</span></div>
<div class="c n" style="left:154.40px;top:2622.55px"><span>2,40%</span></div>
<div class="c n e" style="left:301.80px;top:2622.55px"><span>56,01 €</span></div>
<div class="c n" style="left:466.50px;top:2622.55px"><span>14,40%</span></div>
<div class="c n e" style="left:621.00px;top:2622.55px"><span>0,074 €</span></div>
<div class="c n" style="left:154.40px;top:2654.55px"><span>0,70%</span></div>
<div class="c n e" style="left:301.80px;top:2654.55px"><span>56,40 €</span></div>
<div class="c n" style="left:466.50px;top:2654.55px"><span>4,20%</span></div>
<div class="c n e" style="left:621.00px;top:2654.55px"><span>0,077 €</span></div>
<div class="c n" style="left:154.40px;top:2686.55px"><span>1,20%</span></div>
<div class="c n e" style="left:301.80px;top:2686.55px"><span>57,08 €</span></div>
<div class="c n" style="left:466.50px;top:2686.55px"><span>7,20%</span></div>
<div class="c n e" style="left:621.00px;top:2686.55px"><span>0,082 €</span></div>
<div class="c n" style="left:154.40px;top:2718.55px"><span>4,10%</span></div>
<div class="c n e" style="left:301.80px;top:2718.55px"><span>59,42 €</span></div>
<div class="c n" style="left:466.50px;top:2718.55px"><span>24,60%</span></div>
<div class="c n e" style="left:621.00px;top:2718.55px"><span>0,102 €</span></div>
<div class="c n" style="left:154.40px;top:2750.55px"><span>2,40%</span></div>
<div class="c n e" style="left:301.80px;top:2750.55px"><span>60,84 €</span></div>
<div class="c n" style="left:466.50px;top:2750.55px"><span>14,40%</span></div>
<div class="c n e" style="left:621.00px;top:2750.55px"><span>0,117 €</span></div>
<div class="c n" style="left:154.40px;top:2782.55px"><span>-1,40%</span></div>
<div class="c n e" style="left:301.80px;top:2782.55px"><span>59,99 €</span></div>
<div class="c n" style="left:466.50px;top:2782.55px"><span>-8,40%</span></div>
<div class="c n e" style="left:621.00px;top:2782.55px"><span>0,107 €</span></div>
<div class="c n" style="left:154.40px;top:2814.55px"><span>-0,90%</span></div>
<div class="c n e" style="left:301.80px;top:2814.55px"><span>59,45 €</span></div>
<div class="c n" style="left:466.50px;top:2814.55px"><span>-5,40%</span></div>
<div class="c n e" style="left:621.00px;top:2814.55px"><span>0,102 €</span></div>
<div class="c n" style="left:154.40px;top:2846.55px"><span>2,10%</span></div>
<div class="c n e" style="left:301.80px;top:2846.55px"><span>60,70 €</span></div>
<div class="c n" style="left:466.50px;top:2846.55px"><span>12,60%</span></div>
<div class="c n e" style="left:621.00px;top:2846.55px"><span>0,114 €</span></div>
<div class="c n" style="left:154.40px;top:2878.55px"><span>0,80%</span></div>
<div class="c n e" style="left:301.80px;top:2878.55px"><span>61,19 €</span></div>
<div class="c n" style="left:466.50px;top:2878.55px"><span>4,80%</span></div>
<div class="c n e" style="left:621.00px;top:2878.55px"><span>0,120 €</span></div>
<div class="c n" style="left:154.40px;top:2910.55px"><span>1,40%</span></div>
<div class="c n e" style="left:301.80px;top:2910.55px"><span>62,04 €</span></div>
<div class="c n" style="left:466.50px;top:2910.55px"><span>8,40%</span></div>
<div class="c n e" style="left:621.00px;top:2910.55px"><span>0,130 €</span></div>
<div class="c n" style="left:154.40px;top:2942.55px"><span>2,10%</span></div>
<div class="c n e" style="left:301.80px;top:2942.55px"><span>63,35 €</span></div>
<div class="c n" style="left:466.50px;top:2942.55px"><span>12,60%</span></div>
<div class="c n e" style="left:621.00px;top:2942.55px"><span>0,146 €</span></div>
<div class="c n" style="left:154.40px;top:2974.55px"><span>0,90%</span></div>
<div class="c n e" style="left:301.80px;top:2974.55px"><span>63,92 €</span></div>
<div class="c n" style="left:466.50px;top:2974.55px"><span>5,40%</span></div>
<div class="c n e" style="left:621.00px;top:2974.55px"><span>0,154 €</span></div>
<div class="c n" style="left:154.40px;top:3007.55px"><span>0,50%</span></div>
<div class="c n e" style="left:301.80px;top:3007.55px"><span>64,24 €</span></div>
<div class="c n" style="left:466.50px;top:3007.55px"><span>3,00%</span></div>
<div class="c n e" style="left:621.00px;top:3007.55px"><span>0,159 €</span></div>
<div class="c n" style="left:154.40px;top:3039.55px"><span>-1,70%</span></div>
<div class="c n e" style="left:301.80px;top:3039.55px"><span>63,14 €</span></div>
<div class="c n" style="left:466.50px;top:3039.55px"><span>-10,20%</span></div>
<div class="c n e" style="left:621.00px;top:3039.55px"><span>0,143 €</span></div>
<div class="c n" style="left:154.40px;top:3071.55px"><span>-0,90%</span></div>
<div class="c n e" style="left:301.80px;top:3071.55px"><span>62,58 €</span></div>
<div class="c n" style="left:466.50px;top:3071.55px"><span>-5,40%</span></div>
<div class="c n e" style="left:621.00px;top:3071.55px"><span>0,135 €</span></div>
<div class="c n" style="left:154.40px;top:3103.55px"><span>0,30%</span></div>
<div class="c n e" style="left:301.80px;top:3103.55px"><span>62,76 €</span></div>
<div class="c n" style="left:466.50px;top:3103.55px"><span>1,80%</span></div>
<div class="c n e" style="left:621.00px;top:3103.55px"><span>0,137 €</span></div>
<div class="c n" style="left:154.40px;top:3135.55px"><span>0,60%</span></div>
<div class="c n e" style="left:301.80px;top:3135.55px"><span>63,14 €</span></div>
<div class="c n" style="left:466.50px;top:3135.55px"><span>3,60%</span></div>
<div class="c n e" style="left:621.00px;top:3135.55px"><span>0,142 €</span></div>
<div class="c n" style="left:154.40px;top:3167.55px"><span>1,20%</span></div>
<div class="c n e" style="left:301.80px;top:3167.55px"><span>63,90 €</span></div>
<div class="c n" style="left:466.50px;top:3167.55px"><span>7,20%</span></div>
<div class="c n e" style="left:621.00px;top:3167.55px"><span>0,153 €</span></div>
<div class="c n" style="left:154.40px;top:3199.55px"><span>1,90%</span></div>
<div class="c n e" style="left:301.80px;top:3199.55px"><span>65,11 €</span></div>
<div class="c n" style="left:466.50px;top:3199.55px"><span>11,40%</span></div>
<div class="c n e" style="left:621.00px;top:3199.55px"><span>0,170 €</span></div>
<div class="c n" style="left:154.40px;top:3236.55px"><span>-0,80%</span></div>
<div class="c n e" style="left:301.80px;top:3236.55px"><span>64,59 €</span></div>
<div class="c n" style="left:466.50px;top:3236.55px"><span>-4,80%</span></div>
<div class="c n e" style="left:621.00px;top:3236.55px"><span>0,162 €</span></div>
<div class="c n" style="left:154.40px;top:3268.55px"><span>-1,40%</span></div>
<div class="c n e" style="left:301.80px;top:3268.55px"><span>63,69 €</span></div>
<div class="c n" style="left:466.50px;top:3268.55px"><span>-8,40%</span></div>
<div class="c n e" style="left:621.00px;top:3268.55px"><span>0,148 €</span></div>
<div class="c n" style="left:154.40px;top:3300.55px"><span>1,10%</span></div>
<div class="c n e" style="left:301.80px;top:3300.55px"><span>64,39 €</span></div>
<div class="c n" style="left:466.50px;top:3300.55px"><span>6,60%</span></div>
<div class="c n e" style="left:621.00px;top:3300.55px"><span>0,158 €</span></div>
<div class="c n" style="left:154.40px;top:3332.55px"><span>0,60%</span></div>
<div class="c n e" style="left:301.80px;top:3332.55px"><span>64,77 €</span></div>
<div class="c n" style="left:466.50px;top:3332.55px"><span>3,60%</span></div>
<div class="c n e" style="left:621.00px;top:3332.55px"><span>0,164 €</span></div>
<div class="c n" style="left:154.40px;top:3364.55px"><span>0,30%</span></div>
<div class="c n e" style="left:301.80px;top:3364.55px"><span>64,97 €</span></div>
<div class="c n" style="left:466.50px;top:3364.55px"><span>1,80%</span></div>
<div class="c n e" style="left:621.00px;top:3364.55px"><span>0,167 €</span></div>
<div class="c n" style="left:154.40px;top:3396.55px"><span>1,30%</span></div>
<div class="c n e" style="left:301.80px;top:3396.55px"><span>65,81 €</span></div>
<div class="c n" style="left:466.50px;top:3396.55px"><span>7,80%</span></div>
<div class="c n e" style="left:621.00px;top:3396.55px"><span>0,180 €</span></div>
<div class="c n" style="left:154.40px;top:3428.55px"><span>-0,70%</span></div>
<div class="c n e" style="left:301.80px;top:3428.55px"><span>65,35 €</span></div>
<div class="c n" style="left:466.50px;top:3428.55px"><span>-4,20%</span></div>
<div class="c n e" style="left:621.00px;top:3428.55px"><span>0,172 €</span></div>
<div class="c n" style="left:154.40px;top:3461.55px"><span>-0,30%</span></div>
<div class="c n e" style="left:301.80px;top:3461.55px"><span>65,16 €</span></div>
<div class="c n" style="left:466.50px;top:3461.55px"><span>-1,80%</span></div>
<div class="c n e" style="left:621.00px;top:3461.55px"><span>0,169 €</span></div>
<div class="c n" style="left:154.40px;top:3493.55px"><span>1,20%</span></div>
<div class="c n e" style="left:301.80px;top:3493.55px"><span>65,94 €</span></div>
<div class="c n" style="left:466.50px;top:3493.55px"><span>7,20%</span></div>
<div class="c n e" style="left:621.00px;top:3493.55px"><span>0,181 €</span></div>
<div class="c n" style="left:154.40px;top:3525.55px"><span>1,60%</span></div>
<div class="c n e" style="left:301.80px;top:3525.55px"><span>66,99 €</span></div>
<div class="c n" style="left:466.50px;top:3525.55px"><span>9,60%</span></div>
<div class="c n e" style="left:621.00px;top:3525.55px"><span>0,199 €</span></div>
<div class="c n" style="left:154.40px;top:3557.55px"><span>0,20%</span></div>
<div class="c n e" style="left:301.80px;top:3557.55px"><span>67,13 €</span></div>
<div class="c n" style="left:466.50px;top:3557.55px"><span>1,20%</span></div>
<div class="c n e" style="left:621.00px;top:3557.55px"><span>0,201 €</span></div>
<div class="c n" style="left:154.40px;top:3589.55px"><span>0,33%</span></div>
<div class="c n e" style="left:301.80px;top:3589.55px"><span>67,35 €</span></div>
<div class="c n" style="left:466.50px;top:3589.55px"><span>1,98%</span></div>
<div class="c n e" style="left:621.00px;top:3589.55px"><span>0,205 €</span></div>
<div class="c n" style="left:154.40px;top:3621.55px"><span>1,10%</span></div>
<div class="c n e" style="left:301.80px;top:3621.55px"><span>68,09 €</span></div>
<div class="c n" style="left:466.50px;top:3621.55px"><span>6,60%</span></div>
<div class="c n e" style="left:621.00px;top:3621.55px"><span>0,218 €</span></div>
<div class="c n" style="left:154.40px;top:3653.55px"><span>-2,10%</span></div>
<div class="c n e" style="left:301.80px;top:3653.55px"><span>66,66 €</span></div>
<div class="c n" style="left:466.50px;top:3653.55px"><span>-12,60%</span></div>
<div class="c n e" style="left:621.00px;top:3653.55px"><span>0,191 €</span></div>
<div class="c n" style="left:154.40px;top:3685.55px"><span>-0,80%</span></div>
<div class="c n e" style="left:301.80px;top:3685.55px"><span>66,13 €</span></div>
<div class="c n" style="left:466.50px;top:3685.55px"><span>-4,80%</span></div>
<div class="c n e" style="left:621.00px;top:3685.55px"><span>0,182 €</span></div>
<div class="c n" style="left:154.40px;top:3717.55px"><span>1,20%</span></div>
<div class="c n e" style="left:301.80px;top:3717.55px"><span>66,92 €</span></div>
<div class="c n" style="left:466.50px;top:3717.55px"><span>7,20%</span></div>
<div class="c n e" style="left:621.00px;top:3717.55px"><span>0,195 €</span></div>
<div class="c n" style="left:154.40px;top:3749.55px"><span>1,70%</span></div>
<div class="c n e" style="left:301.80px;top:3749.55px"><span>68,06 €</span></div>
<div class="c n" style="left:466.50px;top:3749.55px"><span>10,20%</span></div>
<div class="c n e" style="left:621.00px;top:3749.55px"><span>0,215 €</span></div>
<div class="c n" style="left:154.40px;top:3781.55px"><span>0,40%</span></div>
<div class="c n e" style="left:301.80px;top:3781.55px"><span>68,33 €</span></div>
<div class="c n" style="left:466.50px;top:3781.55px"><span>2,40%</span></div>
<div class="c n e" style="left:621.00px;top:3781.55px"><span>0,220 €</span></div>
<div class="c n" style="left:154.40px;top:3813.55px"><span>-0,45%</span></div>
<div class="c n e" style="left:301.80px;top:3813.55px"><span>68,02 €</span></div>
<div class="c n" style="left:466.50px;top:3813.55px"><span>-2,70%</span></div>
<div class="c n e" style="left:621.00px;top:3813.55px"><span>0,214 €</span></div>
<div class="c n" style="left:154.40px;top:3845.55px"><span>1,20%</span></div>
<div class="c n e" style="left:301.80px;top:3845.55px"><span>68,84 €</span></div>
<div class="c n" style="left:466.50px;top:3845.55px"><span>7,20%</span></div>
<div class="c n e" style="left:621.00px;top:3845.55px"><span>0,229 €</span></div>
<div class="c n" style="left:154.40px;top:3877.55px"><span>0,40%</span></div>
<div class="c n e" style="left:301.80px;top:3877.55px"><span>69,11 €</span></div>
<div class="c n" style="left:466.50px;top:3877.55px"><span>2,40%</span></div>
<div class="c n e" style="left:621.00px;top:3877.55px"><span>0,235 €</span></div>
<div class="c n" style="left:154.40px;top:3909.55px"><span>1,10%</span></div>
<div class="c n e" style="left:301.80px;top:3909.55px"><span>69,87 €</span></div>
<div class="c n" style="left:466.50px;top:3909.55px"><span>6,60%</span></div>
<div class="c n e" style="left:621.00px;top:3909.55px"><span>0,250 €</span></div>
</div>
</body></html>
